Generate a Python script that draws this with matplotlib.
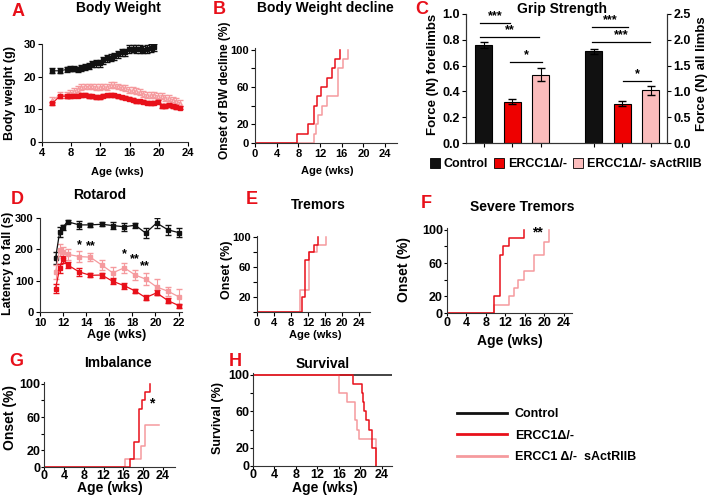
import matplotlib
matplotlib.use('Agg')
import matplotlib.pyplot as plt
from matplotlib.patches import Patch
from matplotlib.lines import Line2D

plt.rcParams['font.family'] = ['Liberation Sans', 'DejaVu Sans']
plt.rcParams['font.weight'] = 'bold'
plt.rcParams['axes.labelweight'] = 'bold'

BLACK = '#111111'
RED = '#e8101a'
PINK = '#f59a9e'
BAR_RED = '#ee0000'
BAR_PINK = '#fbbcbc'

# A: body weight
bw_ctrl_wk = [5.4, 6.4, 7.4, 7.9, 8.4, 8.9, 9.4, 9.9, 10.4, 10.9, 11.4, 11.9, 12.4, 12.9,
              13.4, 13.9, 14.4, 14.9, 15.4, 15.9, 16.4, 16.9, 17.4, 17.9, 18.4, 18.9, 19.3]
bw_ctrl = [21.8, 21.8, 22.2, 22.4, 22.4, 22.3, 22.6, 22.9, 23.3, 23.8, 24.1, 24.1, 25.0, 25.6,
           25.8, 26.2, 26.8, 27.4, 27.5, 28.5, 28.6, 28.5, 28.4, 28.3, 28.4, 28.7, 29.0]
bw_ctrl_err = [0.8, 0.8, 0.8, 0.8, 0.8, 0.8, 0.9, 0.9, 0.9, 0.9, 1.0, 1.0, 1.0, 1.0,
               1.0, 1.0, 1.1, 1.1, 1.1, 1.2, 1.2, 1.2, 1.2, 1.2, 1.2, 1.2, 1.0]
bw_mut_wk = [5.4, 6.4, 7.4, 7.9, 8.4, 8.9, 9.4, 9.9, 10.4, 10.9, 11.4, 11.9, 12.4, 12.9,
             13.4, 13.9, 14.4, 14.9, 15.4, 15.9, 16.4, 16.9, 17.4, 17.9, 18.4, 18.9, 19.4,
             19.9, 20.4, 20.9, 21.4, 21.9, 22.4, 22.9]
bw_ercc = [11.8, 14.0, 14.0, 14.1, 14.2, 14.2, 14.3, 14.5, 14.1, 14.0, 13.8, 13.7, 14.2, 14.3,
           14.5, 14.3, 14.0, 13.7, 13.6, 13.3, 13.0, 12.5, 12.5, 12.3, 12.0, 11.8, 12.0,
           12.3, 11.0, 11.0, 11.3, 11.0, 10.7, 10.5]
bw_ercc_err = [0.5] * 34
bw_sact = [12.8, 14.3, 14.5, 15.0, 15.5, 16.2, 16.8, 17.0, 17.0, 17.0, 16.9, 16.8, 17.0, 16.8,
           17.4, 17.4, 17.0, 16.7, 16.5, 16.0, 15.8, 15.5, 15.2, 14.8, 14.3, 14.4, 14.5,
           14.0, 14.2, 13.6, 13.4, 13.0, 12.5, 12.0]
bw_sact_err = [0.9] * 34

# B: body weight decline onset (%)
bwd_ercc_t = [0, 7.7, 9.8, 10.8, 11.4, 12.1, 13.2, 14.2, 14.8, 15.7]
bwd_ercc = [0, 10, 20, 40, 50, 60, 70, 80, 90, 100]
bwd_sact_t = [0, 10.8, 11.3, 11.7, 12.3, 13.2, 15.4, 16.3, 17.2]
bwd_sact = [0, 10, 20, 30, 40, 50, 80, 90, 100]

# C: grip strength
grip_groups = ['Control', 'ERCC1\u0394/-', 'ERCC1\u0394/- sActRIIB']
grip_fore = [0.76, 0.32, 0.53]
grip_fore_err = [0.02, 0.02, 0.05]
grip_all = [1.78, 0.76, 1.02]
grip_all_err = [0.05, 0.05, 0.09]

# D: rotarod
rot_wk = [11.35, 11.7, 11.95, 12.4, 13.4, 14.35, 15.35, 16.3, 17.3, 18.25, 19.15, 20.1, 21.1, 22.05]
rot_ctrl = [172, 255, 270, 288, 278, 278, 280, 276, 272, 277, 252, 284, 262, 253]
rot_ctrl_err = [18, 15, 8, 5, 12, 6, 6, 10, 12, 8, 15, 15, 15, 15]
rot_ercc = [75, 139, 168, 150, 128, 117, 118, 98, 84, 67, 46, 61, 36, 20]
rot_ercc_err = [15, 15, 12, 10, 12, 6, 8, 10, 10, 7, 8, 8, 8, 6]
rot_sact = [128, 198, 190, 184, 177, 175, 150, 125, 141, 118, 105, 80, 66, 48]
rot_sact_err = [22, 20, 18, 18, 18, 12, 15, 20, 15, 15, 20, 25, 15, 25]

# E: tremors onset (%)
trem_ercc_t = [0, 10.5, 11.3, 12.3, 13.3, 14.2]
trem_ercc = [0, 20, 70, 80, 90, 100]
trem_sact_t = [0, 10.2, 12.3, 14.0, 16.2]
trem_sact = [0, 30, 80, 90, 100]

# F: severe tremors onset (%)
sev_ercc_t = [0, 9.7, 10.8, 11.6, 12.7, 15.8]
sev_ercc = [0, 20, 70, 80, 90, 100]
sev_sact_t = [0, 9.7, 12.7, 13.7, 14.7, 15.8, 17.8, 19.9, 20.9]
sev_sact = [0, 10, 20, 30, 40, 50, 70, 85, 100]

# G: imbalance onset (%)
imb_ercc_t = [0, 17.4, 18.2, 19.2, 19.8, 20.3, 21.3]
imb_ercc = [0, 10, 30, 70, 80, 90, 100]
imb_sact_t = [0, 16.4, 19.6, 20.4, 23.1]
imb_sact = [0, 10, 25, 50, 50]

# H: survival (%)
surv_ctrl_t = [0, 26.0]
surv_ctrl = [100, 100]
surv_ercc_t = [0, 18.6, 20.3, 20.5, 20.7, 21.0, 21.7, 22.2, 22.9]
surv_ercc = [100, 90, 80, 70, 60, 50, 40, 20, 0]
surv_sact_t = [0, 16.1, 17.5, 19.0, 19.4, 19.8, 22.9]
surv_sact = [100, 80, 70, 50, 40, 30, 0]

W, H = 709, 495
fig = plt.figure(figsize=(W / 100, H / 100), dpi=100)


def place(l, t, r, b):
    return fig.add_axes([l / W, 1 - b / H, (r - l) / W, (b - t) / H])


def ftext(x, y, s, **kw):
    kw.setdefault('ha', 'center')
    kw.setdefault('va', 'center')
    kw.setdefault('fontweight', 'bold')
    fig.text(x / W, 1 - y / H, s, **kw)


def style(ax, right=False):
    ax.spines['top'].set_visible(False)
    if not right:
        ax.spines['right'].set_visible(False)
    for s in ax.spines.values():
        s.set_color('#333333')
        s.set_linewidth(0.8)
    ax.tick_params(direction='out', length=3, width=0.8, labelsize=8, pad=1.5)
    for lbl in ax.get_xticklabels() + ax.get_yticklabels():
        lbl.set_fontweight('bold')
    ax.patch.set_alpha(0)


def onset_axes(ax, xmax, zero_label=True):
    ax.set_ylim(0, 102)
    ax.set_xlim(0, xmax)
    ax.set_yticks([0, 20, 40, 60, 80, 100])
    ax.set_yticklabels(['0' if zero_label else '', '20', '', '60', '', '100'])
    ax.set_xticks([0, 4, 8, 12, 16, 20, 24])
    style(ax)


# ---- A
ax = place(42, 44, 188, 142)
ax.errorbar(bw_ctrl_wk, bw_ctrl, yerr=bw_ctrl_err, color=BLACK, marker='s', ms=2.5,
            lw=0.8, capsize=2, elinewidth=0.8)
ax.errorbar(bw_mut_wk, bw_sact, yerr=bw_sact_err, color=PINK, marker='^', ms=2.5,
            mfc='white', lw=0.8, capsize=2, elinewidth=0.8)
ax.errorbar(bw_mut_wk, bw_ercc, yerr=bw_ercc_err, color=RED, marker='s', ms=2.5,
            lw=0.8, capsize=2, elinewidth=0.8)
ax.set_xlim(4, 24)
ax.set_ylim(0, 30)
ax.set_xticks([4, 8, 12, 16, 20, 24])
ax.set_yticks([0, 10, 20, 30])
style(ax)

# ---- B
ax = place(255, 48, 397, 143)
ax.step(bwd_sact_t, bwd_sact, where='post', color=PINK, lw=1.1)
ax.step(bwd_ercc_t, bwd_ercc, where='post', color=RED, lw=1.1)
onset_axes(ax, 26.2)

# ---- C
ax = place(466, 14, 667, 143)
pos_l = [0, 1, 2]
pos_r = [3.85, 4.85, 5.85]
cols = [BLACK, BAR_RED, BAR_PINK]
ax.bar(pos_l, grip_fore, yerr=grip_fore_err, width=0.6, color=cols, edgecolor='black',
       linewidth=0.8, capsize=3, error_kw={'elinewidth': 0.8})
ax2 = ax.twinx()
ax2.bar(pos_r, grip_all, yerr=grip_all_err, width=0.6, color=cols, edgecolor='black',
        linewidth=0.8, capsize=3, error_kw={'elinewidth': 0.8})
ax.set_xlim(-0.62, 6.42)
ax.set_ylim(0, 1.0)
ax2.set_ylim(0, 2.5)
ax.set_yticks([0, 0.2, 0.4, 0.6, 0.8, 1.0])
ax.set_yticklabels(['0.0', '0.2', '0.4', '0.6', '0.8', '1.0'])
ax2.set_yticks([0, 0.5, 1.0, 1.5, 2.0, 2.5])
ax2.set_yticklabels(['0.0', '0.5', '1.0', '1.5', '2.0', '2.5'])
ax.set_xticks(pos_l + pos_r)
ax.set_xticklabels([])
style(ax, right=True)
style(ax2, right=True)
ax.tick_params(labelsize=9)
ax2.tick_params(labelsize=9)
brackets = [(-0.13, 0.93, 0.928, '***'), (-0.13, 1.93, 0.825, '**'), (0.93, 2.05, 0.626, '*'),
            (3.81, 5.05, 0.90, '***'), (3.81, 5.81, 0.786, '***'), (4.87, 5.87, 0.48, '*')]
for x0, x1, y, s in brackets:
    ax.plot([x0, x1], [y, y], color='black', lw=0.9)
    ax.text((x0 + x1) / 2, y + 0.005, s, ha='center', va='bottom', fontsize=9, fontweight='bold')
handles = [Patch(facecolor=c, edgecolor='black', linewidth=0.6) for c in cols]
fig.legend(handles, grip_groups, loc='center', bbox_to_anchor=(566 / W, 1 - 164 / H), ncol=3,
           frameon=False, fontsize=9, handlelength=0.8, handleheight=0.8, handletextpad=0.3,
           columnspacing=0.5, borderpad=0)

# ---- D
ax = place(40, 218, 182, 312)
ax.errorbar(rot_wk, rot_ctrl, yerr=rot_ctrl_err, color=BLACK, marker='s', ms=2.5, lw=0.9,
            capsize=2, elinewidth=0.8)
ax.errorbar(rot_wk, rot_sact, yerr=rot_sact_err, color=PINK, marker='s', ms=2.5, lw=0.9,
            capsize=2, elinewidth=0.8)
ax.errorbar(rot_wk, rot_ercc, yerr=rot_ercc_err, color=RED, marker='s', ms=2.5, lw=0.9,
            capsize=2, elinewidth=0.8)
ax.set_xlim(10, 22.3)
ax.set_ylim(0, 300)
ax.set_xticks([10, 12, 14, 16, 18, 20, 22])
ax.set_yticks([0, 100, 200, 300])
style(ax)
for x, y, s in [(13.4, 214, '*'), (14.4, 211, '**'), (17.3, 184, '*'), (18.2, 168, '**'),
                (19.1, 145, '**')]:
    ax.text(x, y, s, ha='center', va='center', fontsize=9, fontweight='bold')

# ---- E
ax = place(257, 236, 370, 312)
ax.step(trem_sact_t, trem_sact, where='post', color=PINK, lw=1.1)
ax.step(trem_ercc_t, trem_ercc, where='post', color=RED, lw=1.1)
onset_axes(ax, 26.5, zero_label=False)

# ---- F
ax = place(447, 228, 572, 313)
ax.step(sev_sact_t, sev_sact, where='post', color=PINK, lw=1.1)
ax.step(sev_ercc_t, sev_ercc, where='post', color=RED, lw=1.1)
onset_axes(ax, 25.7)
ax.tick_params(labelsize=9, length=2, pad=1)
ax.text(18.5, 97, '**', ha='center', va='center', fontsize=10, fontweight='bold')

# ---- G
ax = place(44, 382, 175, 467)
ax.step(imb_sact_t, imb_sact, where='post', color=PINK, lw=1.1)
ax.step(imb_ercc_t, imb_ercc, where='post', color=RED, lw=1.1)
onset_axes(ax, 26.4)
ax.tick_params(labelsize=9, length=2, pad=0.5)
ax.text(21.8, 76, '*', ha='center', va='center', fontsize=10, fontweight='bold')

# ---- H
ax = place(253, 373, 392, 466)
ax.step(surv_ctrl_t, surv_ctrl, where='post', color=BLACK, lw=1.1)
ax.step(surv_sact_t, surv_sact, where='post', color=PINK, lw=1.1)
ax.step(surv_ercc_t, surv_ercc, where='post', color=RED, lw=1.1)
onset_axes(ax, 25.9)
ax.tick_params(labelsize=9, length=2, pad=0.5)

# ---- titles, labels, panel letters
for x, y, s in [(118, 8, 'Body Weight'), (325, 8, 'Body Weight decline'), (562, 9, 'Grip Strength'),
                (100, 195, 'Rotarod'), (318, 205, 'Tremors'), (522, 207, 'Severe Tremors'),
                (118, 363, 'Imbalance'), (323, 364, 'Survival')]:
    ftext(x, y, s, fontsize=10)

for x, y, s in [(18, 11, 'A'), (219, 9, 'B'), (422, 10, 'C'), (17, 200, 'D'), (252, 200, 'E'),
                (426, 203, 'F'), (16, 362, 'G'), (235, 362, 'H')]:
    ftext(x, y, s, fontsize=13, color='#e8101a')

for x, y, s, fs in [(10, 93, 'Body weight (g)', 9), (225, 90, 'Onset of BW decline (%)', 8.6),
                    (433, 74, 'Force (N) forelimbs', 9.5), (702, 74, 'Force (N) all limbs', 9.5),
                    (8, 263, 'Latency to fall (s)', 9), (227, 270, 'Onset (%)', 9),
                    (404, 270, 'Onset (%)', 10), (10, 418, 'Onset (%)', 10),
                    (218, 418, 'Survival (%)', 9)]:
    ftext(x, y, s, fontsize=fs, rotation=90)

for x, y, s, fs in [(117, 172, 'Age (wks)', 8), (327, 171, 'Age (wks)', 8), (117, 335, 'Age (wks)', 9),
                    (315, 335, 'Age (wks)', 8), (510, 341, 'Age (wks)', 10),
                    (110, 488, 'Age (wks)', 10), (325, 488, 'Age (wks)', 10)]:
    ftext(x, y, s, fontsize=fs)

# bottom-right legend
lines = [Line2D([], [], color=c, lw=2) for c in [BLACK, RED, PINK]]
fig.legend(lines, ['Control', 'ERCC1\u0394/-', 'ERCC1 \u0394/-  sActRIIB'], loc='upper left',
           bbox_to_anchor=(451 / W, 1 - 402 / H), frameon=False, fontsize=9, handlelength=4,
           handletextpad=0.6, labelspacing=0.75, borderpad=0)

fig.savefig('out.png', dpi=100)
